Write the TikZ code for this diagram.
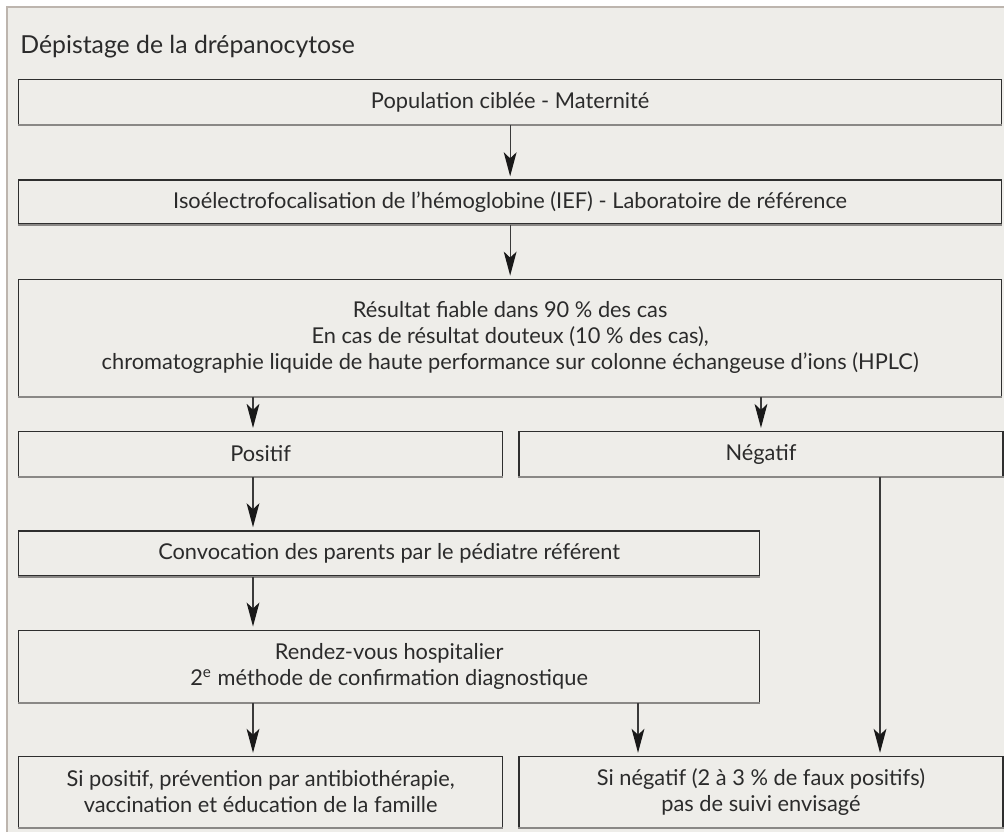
\documentclass[tikz,border=0pt]{standalone}
\usepackage{fontspec}
\setmainfont{Lato}
\usepackage{tikz}
\usetikzlibrary{arrows.meta,positioning}
\definecolor{DREbg}{HTML}{EEEDE9}
\definecolor{DREframe}{HTML}{BDB5AE}
\definecolor{DREline}{HTML}{2E2E2E}
\definecolor{DREshade}{HTML}{8A8886}
\definecolor{DREarrow}{HTML}{3A3A3A}
\definecolor{DREtext}{HTML}{2B2B2B}
\tikzset{
  flow/box/.style={draw=DREline, line width=0.65pt, inner sep=0pt, align=center,
    text=DREtext, font=\fontsize{10.9}{13}\selectfont,
    append after command={(\tikzlastnode.south west) edge[DREshade, line width=1pt]
      (\tikzlastnode.south east)}},
  flow/wide/.style={flow/box, minimum width=491.5pt},
  flow/half/.style={flow/box, minimum width=242pt},
  flow/mid/.style={flow/box, minimum width=370.5pt},
  flow/title/.style={text=DREtext, font=\fontsize{12.4}{15}\selectfont, inner sep=0pt},
  arr/.style={draw=DREarrow, line width=0.6pt, shorten >=1.5pt,
    -{Stealth[length=12pt, width=6.4pt, inset=3pt, color=black!90]}}
}

\begin{document}
\begin{tikzpicture}
\useasboundingbox (0,0) rectangle (502pt,-416pt);
% frame
\fill[white] (0,0) rectangle (502pt,-416pt);
\fill[DREbg] (3.25pt,-3.5pt) rectangle (502pt,-416pt);
\draw[DREframe, line width=1pt] (3.25pt,-416pt) -- (3.25pt,-3.5pt) -- (502pt,-3.5pt);
\node[flow/title, anchor=base west] (title) at (10pt,-26.5pt) {Dépistage de la drépanocytose};
% main column
\node[flow/wide, minimum height=22.5pt, anchor=north west] (pop) at (9pt,-39.5pt) {Population ciblée - Maternité};
\node[flow/wide, minimum height=22pt, below=27pt of pop] (ief) {Isoélectrofocalisation de l’hémoglobine (IEF) - Laboratoire de référence};
\node[flow/wide, minimum height=58.5pt, below=27pt of ief] (res) {Résultat fiable dans 90 \% des cas\\
  En cas de résultat douteux (10 \% des cas),\\
  chromatographie liquide de haute performance sur colonne échangeuse d’ions (HPLC)};
% results
\node[flow/half, minimum height=22.5pt, below=17pt of res.south west, anchor=north west] (pos) {Positif};
\node[flow/half, minimum height=22.5pt, right=7.5pt of pos] (neg) {Négatif};
\node[flow/mid, minimum height=22.5pt, below=26.5pt of pos.south west, anchor=north west] (conv) {Convocation des parents par le pédiatre référent};
\node[flow/mid, minimum height=36pt, below=26.5pt of conv.south west, anchor=north west] (rdv) {Rendez-vous hospitalier\\
  2\textsuperscript{e} méthode de confirmation diagnostique};
\node[flow/half, minimum height=35.5pt, below=26.5pt of rdv.south west, anchor=north west] (sipos) {Si positif, prévention par antibiothérapie,\\
  vaccination et éducation de la famille};
\node[flow/half, minimum height=35.5pt, right=7.5pt of sipos] (sineg) {Si négatif (2 à 3 \% de faux positifs)\\
  pas de suivi envisagé};
% arrow columns
\coordinate (colL) at (126.5pt,0);
\coordinate (colM) at (319pt,0);
\coordinate (colR) at (440pt,0);
\draw[arr] (pop) -- (ief);
\draw[arr] (ief) -- (res);
\draw[arr] (res.south -| colL) -- (pos.north -| colL);
\draw[arr] (res.south -| neg) -- (neg);
\draw[arr] (pos.south -| colL) -- (conv.north -| colL);
\draw[arr] (conv.south -| colL) -- (rdv.north -| colL);
\draw[arr] (rdv.south -| colL) -- (sipos.north -| colL);
\draw[arr] (rdv.south -| colM) -- (sineg.north -| colM);
\draw[arr] (neg.south -| colR) -- (sineg.north -| colR);
\end{tikzpicture}
\end{document}
